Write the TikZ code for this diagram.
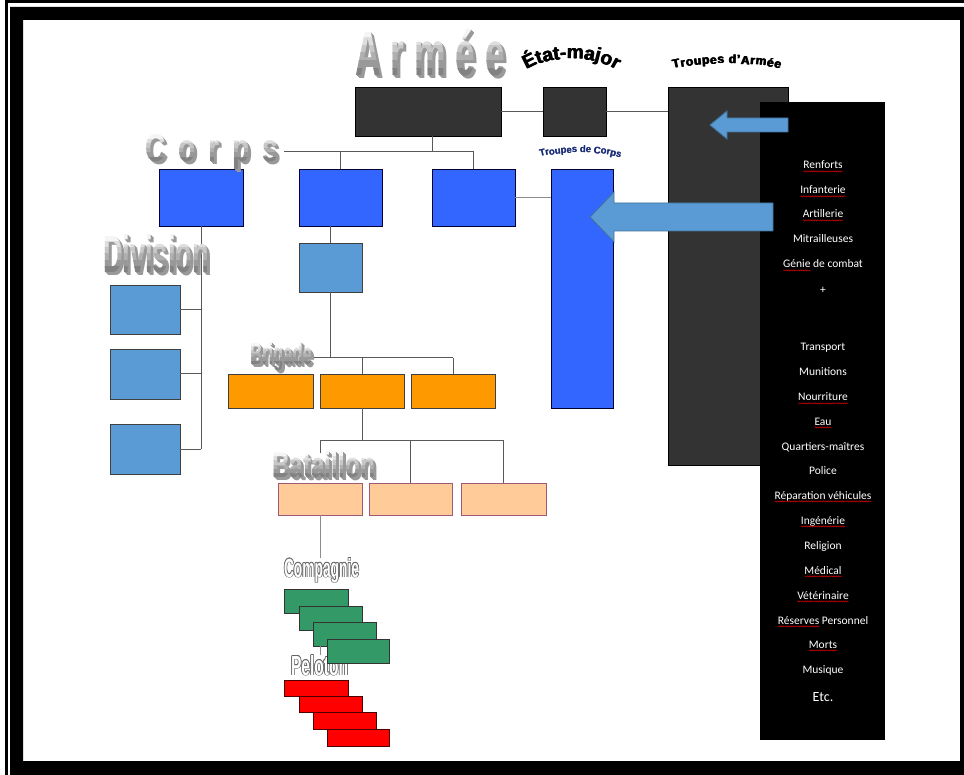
\documentclass[tikz,border=0pt]{standalone}
\usepackage{fontspec}
\setmainfont{Liberation Sans}
\newfontfamily\carlito{Carlito}
\usetikzlibrary{decorations.text,decorations.pathmorphing,calc}
\definecolor{dk}{HTML}{333333}
\definecolor{cblue}{HTML}{3366FF}
\definecolor{lblue}{HTML}{5B9BD5}
\definecolor{aborder}{HTML}{41719C}
\definecolor{orng}{HTML}{FF9900}
\definecolor{peach}{HTML}{FFCC99}
\definecolor{peachb}{HTML}{A05A78}
\definecolor{grn}{HTML}{339966}
\definecolor{tcblue}{HTML}{1C2E78}
\newcommand\bx[6]{\node[box,#6,minimum width=#4pt,minimum height=#5pt] (#1) at (#2,#3) {};}
\newcommand\wart[6]{%
  \foreach \k in {3,2,1}{%
    \node[wa,text=black!40] at ($(#2,#3)+(\k,0.7*\k)$) {\resizebox{#4pt}{#5pt}{\bfseries #6}};}%
  \foreach \i in {0,...,5}{%
    \pgfmathsetmacro\yt{ifthenelse(\i==0,#3-#5-12,#3-#5+\i*#5/6)}%
    \pgfmathsetmacro\yb{ifthenelse(\i==5,#3+15,#3-#5+(\i+1)*#5/6+0.4)}%
    \pgfmathtruncatemacro\cc{96-\i*9}%
    \begin{scope}
      \clip (#2-6,\yt) rectangle (#2+#4+6,\yb);
      \node[wa,text=white!\cc!black] at (#2,#3) {\resizebox{#4pt}{#5pt}{\bfseries #6}};
    \end{scope}}%
  \node[wa] (#1) at (#2,#3) {\phantom{\resizebox{#4pt}{#5pt}{\bfseries #6}}};%
}
\newcommand\wout[6]{%
  \foreach \dx/\dy in {-0.7/0,0.7/0,0/-0.7,0/0.7,-0.5/-0.5,0.5/0.5,-0.5/0.5,0.5/-0.5}{%
    \node[wa,text=black!60] at ($(#2,#3)+(\dx,\dy)$) {\resizebox{#4pt}{#5pt}{\bfseries #6}};}%
  \node[wa,text=white] (#1) at (#2,#3) {\resizebox{#4pt}{#5pt}{\bfseries #6}};}
\newcommand\sq[1]{\draw[squig] ([yshift=-2.4pt]#1.base west) -- ([yshift=-2.4pt]#1.base east);}
\begin{document}
\begin{tikzpicture}[x=1pt,y=-1pt,
  box/.style={draw,line width=0.8pt,inner sep=0pt,outer sep=0pt,anchor=north west},
  dkbox/.style={fill=dk,draw=black},
  cbox/.style={fill=cblue,draw=black!80!blue},
  lbox/.style={fill=lblue,draw=black!75},
  obox/.style={fill=orng,draw=black!75},
  pbox/.style={fill=peach,draw=peachb},
  gbox/.style={fill=grn,draw=black!80},
  rbox/.style={fill=red,draw=black!70!red},
  con/.style={draw=black!65,line width=1pt},
  wa/.style={anchor=base west,inner sep=0pt,outer sep=0pt},
  barrow/.style={fill=lblue,draw=aborder,line width=0.9pt,line join=miter},
  ptxt/.style={text=white,font=\carlito\fontsize{11.5}{12}\selectfont,inner sep=0pt,outer sep=0pt,anchor=base},
  squig/.style={draw=red!85!black,line width=0.5pt,decorate,decoration={snake,amplitude=0.6pt,segment length=2.4pt}}]
\useasboundingbox (0,0) rectangle (964,775);
\clip (0,0) rectangle (964,775);
\fill[white] (0,0) rectangle (964,775);
% frame
\fill[black,even odd rule] (10,7) rectangle (990,790) (23,20) rectangle (960,761);
\draw[line width=2.6pt] (6.3,1.4) rectangle (995,795);
% army level
\bx{armee}{355}{87}{146}{49}{dkbox}
\bx{em}{543}{87}{63}{49}{dkbox}
\bx{ta}{668}{87}{120}{378}{dkbox}
\node[box,fill=black,draw=none,minimum width=125pt,minimum height=638pt] (panel) at (760,102) {};
% corps level
\bx{c1}{159}{169}{84}{57}{cbox}
\bx{c2}{299}{169}{83}{57}{cbox}
\bx{c3}{432}{169}{83}{57}{cbox}
\bx{tc}{551}{169}{62}{239}{cbox}
% division
\bx{d1}{110}{285}{70}{49}{lbox}
\bx{d2}{110}{349}{70}{50}{lbox}
\bx{d3}{110}{424}{70}{50}{lbox}
\bx{lb}{299}{243}{63}{49}{lbox}
% brigade
\bx{b1}{228}{374}{85}{34}{obox}
\bx{b2}{320}{374}{84}{34}{obox}
\bx{b3}{411}{374}{84}{34}{obox}
% bataillon
\bx{p1}{278}{483}{84}{32}{pbox}
\bx{p2}{369}{483}{83}{32}{pbox}
\bx{p3}{461}{483}{85}{32}{pbox}
% arrows
\draw[barrow] (788,118) -- (727,118) -- (727,111) -- (710,125) -- (727,139) -- (727,132) -- (788,132) -- cycle;
\draw[barrow] (773,203) -- (614,203) -- (614,192) -- (590,217) -- (614,242) -- (614,231) -- (773,231) -- cycle;
% connectors
\coordinate (cb) at (432,152);
\coordinate (cL) at (284,152);
\draw[con] (armee.east) -- (em.west);
\draw[con] (em.east) -- (em.east -| ta.west);
\draw[con] (armee.south -| cb) -- (cb);
\draw[con] (cL) -- (c3.north |- cb);
\draw[con] (c2.north) -- (c2.north |- cb);
\draw[con] (c3.north) -- (c3.north |- cb);
\draw[con,draw=black!45] (c3.east) -- (c3.east -| tc.west);
\draw[con] (c1.south) -- (c1.south |- d3.east);
\draw[con] (d1.east) -- (d1.east -| c1.south);
\draw[con] (d2.east) -- (d2.east -| c1.south);
\draw[con] (d3.east) -- (d3.east -| c1.south);
\draw[con] (lb.north |- c2.south) -- (lb.north);
\coordinate (bL) at (312,358);
\draw[con] (lb.south) -- (lb.south |- bL);
\draw[con] (bL) -- (b3.north |- bL);
\draw[con] (b2.north) -- (b2.north |- bL);
\draw[con] (b3.north) -- (b3.north |- bL);
\coordinate (batbus) at (362,441);
\coordinate (p1stub) at (320,453);
\draw[con] (b2.south) -- (b2.south |- batbus);
\draw[con] (p1.north |- batbus) -- (p3.north |- batbus);
\draw[con] (p2.north) -- (p2.north |- batbus);
\draw[con] (p3.north) -- (p3.north |- batbus);
\draw[con] (p1.north |- batbus) -- (p1stub);
% titles
\wart{tArmee}{355}{76}{150}{46}{A\kern.28em r\kern.28em m\kern.28em é\kern.28em e}
\wart{tCorps}{145}{162}{133}{27}{C\kern.45em o\kern.45em r\kern.45em p\kern.45em s}
\wart{tDiv}{103}{273}{106}{38}{Division}
\wart{tBrig}{250}{365}{62}{22}{Brigade}
\wart{tBat}{272}{478}{103}{26}{Bataillon}
\foreach \s in {0,0.45,0.9}{
\path[xshift=\s pt,decorate,decoration={text along path,text={|\bfseries\fontsize{19}{19}\selectfont|État-major},text align=center}] (515,80) .. controls (537,52) and (605,51) .. (627,80);
\path[xshift=\s pt,decorate,decoration={text along path,text={|\bfseries\fontsize{12}{13}\selectfont|Troupes d'Armée},text align={fit to path}}] (673,69) .. controls (701,62) and (751,62) .. (780,69);
}
\foreach \s in {0,0.35}{
\path[xshift=\s pt,decorate,decoration={text along path,text={|\bfseries\fontsize{9.5}{10}\selectfont\color{tcblue}|Troupes de Corps},text align={fit to path}}] (540,157) .. controls (565,151) and (596,151) .. (620,158);
}
% compagnie / peloton
\wout{tComp}{284}{577}{75}{19}{Compagnie}
\draw[con,draw=black!45] (p1.south) -- (p1.south |- tComp.north);
\wout{tPel}{291}{675}{57}{20}{Peloton}
\bx{g1}{284}{589}{64}{24}{gbox}
\bx{g2}{299}{606}{63}{24}{gbox}
\bx{g3}{313}{622}{63}{24}{gbox}
\draw[con,draw=black!45] (g3.south -| p1.south) -- (tPel.north -| p1.south);
\bx{g4}{327}{639}{62}{24}{gbox}
\bx{r1}{284}{680}{64}{16}{rbox}
\bx{r2}{299}{696}{63}{16}{rbox}
\bx{r3}{313}{712}{63}{17}{rbox}
\bx{r4}{327}{729}{62}{17}{rbox}
% panel text
\node[ptxt] (t1) at (823,169) {Renforts};
\node[ptxt] (t2) at (823,194) {Infanterie};
\node[ptxt] (t3) at (823,218) {Artillerie};
\node[ptxt] (t4) at (823,243) {Mitrailleuses};
\node[ptxt] (t5) at (823,268) {Génie de combat};
\node[ptxt] (t6) at (823,294) {+};
\node[ptxt] (t7) at (823,351) {Transport};
\node[ptxt] (t8) at (823,376) {Munitions};
\node[ptxt] (t9) at (823,401) {Nourriture};
\node[ptxt] (t10) at (823,425) {Eau};
\node[ptxt] (t11) at (823,450) {Quartiers-maîtres};
\node[ptxt] (t12) at (823,475) {Police};
\node[ptxt] (t13) at (823,499) {Réparation véhicules};
\node[ptxt] (t14) at (823,524) {Ingénérie};
\node[ptxt] (t15) at (823,549) {Religion};
\node[ptxt] (t16) at (823,574) {Médical};
\node[ptxt] (t17) at (823,599) {Vétérinaire};
\node[ptxt] (t18) at (823,624) {Réserves Personnel};
\node[ptxt] (t19) at (823,648) {Morts};
\node[ptxt] (t20) at (823,673) {Musique};
\node[ptxt,font=\carlito\fontsize{14}{15}\selectfont] (t21) at (823,701) {Etc.};
\node[ptxt,anchor=base west] (t5a) at (t5.base west) {\phantom{Génie}};
\node[ptxt,anchor=base west] (t18a) at (t18.base west) {\phantom{Réserves}};
\sq{t1}\sq{t2}\sq{t3}\sq{t5a}\sq{t9}\sq{t10}\sq{t13}\sq{t14}\sq{t16}\sq{t17}\sq{t18a}\sq{t19}
\end{tikzpicture}
\end{document}
